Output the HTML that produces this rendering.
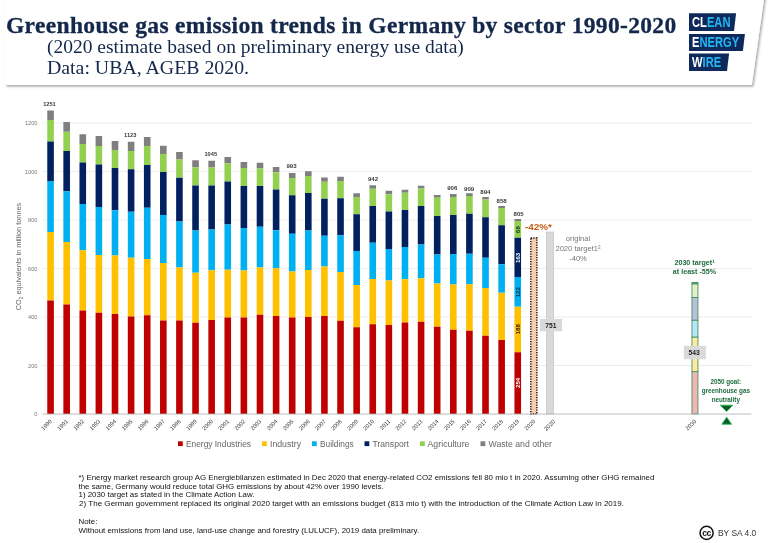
<!DOCTYPE html>
<html><head><meta charset="utf-8"><title>Greenhouse gas emission trends in Germany by sector 1990-2020</title>
<style>
html,body{margin:0;padding:0;background:#fff;}
body{width:768px;height:543px;position:relative;overflow:hidden;will-change:transform;font-family:"Liberation Sans",sans-serif;}
.chart{position:absolute;left:0;top:0;font-family:"Liberation Sans",sans-serif;}
.hdr{position:absolute;left:0;top:0;}
.t{position:absolute;white-space:nowrap;font-family:"Liberation Serif",serif;color:#14284b;transform-origin:0 0;}
#t1{left:5.6px;top:13.6px;-webkit-text-stroke:0.3px #14284b;font-size:22.1px;font-weight:bold;line-height:24px;letter-spacing:0.3px;transform:scaleX(1.065);}
#t2{left:46.8px;top:36.6px;font-size:19.4px;line-height:20px;transform:scaleX(1.005);}
#t3{left:46.8px;top:57.5px;font-size:19.4px;line-height:20px;transform:scaleX(1.022);}
.fn{position:absolute;left:78.5px;white-space:nowrap;font-size:7.9px;line-height:8.8px;color:#111;transform-origin:0 0;}
.logo{position:absolute;left:688.8px;height:17.6px;background:#0f2a5a;clip-path:polygon(0 0,100% 0,calc(100% - 2.1px) 100%,0 100%);}
.logo span{position:absolute;left:3.5px;top:1.5px;font-weight:bold;font-size:14.6px;line-height:15px;color:#24b6f2;transform-origin:0 0;transform:scaleX(0.765);white-space:nowrap;}
.logo b{color:#fff;}
.cc{position:absolute;left:718px;top:527.0px;font-size:9.6px;line-height:12px;color:#333;white-space:nowrap;transform-origin:0 0;transform:scaleX(0.876);}
</style></head><body>
<svg class="hdr" width="768" height="100" viewBox="0 0 768 100">
<defs><filter id="bl" x="-5%" y="-20%" width="110%" height="150%"><feDropShadow dx="1.5" dy="1.5" stdDeviation="0.95" flood-color="#000" flood-opacity="0.36"/></filter></defs>
<polygon points="5,-6 764.7,-6 751.8,85.0 5,85.0" fill="#fff" filter="url(#bl)"/>
</svg>
<div class="t" id="t1">Greenhouse gas emission trends in Germany by sector 1990-2020</div>
<div class="t" id="t2">(2020 estimate based on preliminary energy use data)</div>
<div class="t" id="t3">Data: UBA, AGEB 2020.</div>
<div class="logo" style="top:13.3px;width:47.3px"><span><b>CL</b>EAN</span></div>
<div class="logo" style="top:33.5px;width:56.2px"><span><b>E</b>NERGY</span></div>
<div class="logo" style="top:53.4px;width:40.3px"><span><b>W</b>IRE</span></div>
<svg class="chart" width="768" height="543" viewBox="0 0 768 543">
<rect x="42.5" y="365.15" width="708.8" height="0.7" fill="#e4e4e4"/>
<rect x="42.5" y="316.65" width="708.8" height="0.7" fill="#e4e4e4"/>
<rect x="42.5" y="268.15" width="708.8" height="0.7" fill="#e4e4e4"/>
<rect x="42.5" y="219.65" width="708.8" height="0.7" fill="#e4e4e4"/>
<rect x="42.5" y="171.15" width="708.8" height="0.7" fill="#e4e4e4"/>
<rect x="42.5" y="122.65" width="708.8" height="0.7" fill="#e4e4e4"/>
<rect x="47.26" y="110.50" width="6.6" height="9.50" fill="#7f7f7f"/>
<rect x="47.26" y="120.00" width="6.6" height="21.50" fill="#92d050"/>
<rect x="47.26" y="141.50" width="6.6" height="39.50" fill="#002060"/>
<rect x="47.26" y="181.00" width="6.6" height="51.00" fill="#00b0f0"/>
<rect x="47.26" y="232.00" width="6.6" height="68.50" fill="#ffc000"/>
<rect x="47.26" y="300.50" width="6.6" height="113.50" fill="#c00000"/>
<rect x="63.36" y="122.00" width="6.6" height="9.75" fill="#7f7f7f"/>
<rect x="63.36" y="131.75" width="6.6" height="19.25" fill="#92d050"/>
<rect x="63.36" y="151.00" width="6.6" height="40.25" fill="#002060"/>
<rect x="63.36" y="191.25" width="6.6" height="50.75" fill="#00b0f0"/>
<rect x="63.36" y="242.00" width="6.6" height="62.50" fill="#ffc000"/>
<rect x="63.36" y="304.50" width="6.6" height="109.50" fill="#c00000"/>
<rect x="79.48" y="134.25" width="6.6" height="9.75" fill="#7f7f7f"/>
<rect x="79.48" y="144.00" width="6.6" height="18.50" fill="#92d050"/>
<rect x="79.48" y="162.50" width="6.6" height="41.50" fill="#002060"/>
<rect x="79.48" y="204.00" width="6.6" height="46.25" fill="#00b0f0"/>
<rect x="79.48" y="250.25" width="6.6" height="60.25" fill="#ffc000"/>
<rect x="79.48" y="310.50" width="6.6" height="103.50" fill="#c00000"/>
<rect x="95.58" y="136.00" width="6.6" height="10.00" fill="#7f7f7f"/>
<rect x="95.58" y="146.00" width="6.6" height="18.50" fill="#92d050"/>
<rect x="95.58" y="164.50" width="6.6" height="42.50" fill="#002060"/>
<rect x="95.58" y="207.00" width="6.6" height="48.00" fill="#00b0f0"/>
<rect x="95.58" y="255.00" width="6.6" height="57.75" fill="#ffc000"/>
<rect x="95.58" y="312.75" width="6.6" height="101.25" fill="#c00000"/>
<rect x="111.70" y="141.00" width="6.6" height="9.00" fill="#7f7f7f"/>
<rect x="111.70" y="150.00" width="6.6" height="18.00" fill="#92d050"/>
<rect x="111.70" y="168.00" width="6.6" height="42.25" fill="#002060"/>
<rect x="111.70" y="210.25" width="6.6" height="45.25" fill="#00b0f0"/>
<rect x="111.70" y="255.50" width="6.6" height="58.50" fill="#ffc000"/>
<rect x="111.70" y="314.00" width="6.6" height="100.00" fill="#c00000"/>
<rect x="127.80" y="141.75" width="6.6" height="9.25" fill="#7f7f7f"/>
<rect x="127.80" y="151.00" width="6.6" height="18.25" fill="#92d050"/>
<rect x="127.80" y="169.25" width="6.6" height="42.50" fill="#002060"/>
<rect x="127.80" y="211.75" width="6.6" height="46.00" fill="#00b0f0"/>
<rect x="127.80" y="257.75" width="6.6" height="58.75" fill="#ffc000"/>
<rect x="127.80" y="316.50" width="6.6" height="97.50" fill="#c00000"/>
<rect x="143.91" y="137.00" width="6.6" height="9.00" fill="#7f7f7f"/>
<rect x="143.91" y="146.00" width="6.6" height="19.00" fill="#92d050"/>
<rect x="143.91" y="165.00" width="6.6" height="42.75" fill="#002060"/>
<rect x="143.91" y="207.75" width="6.6" height="51.25" fill="#00b0f0"/>
<rect x="143.91" y="259.00" width="6.6" height="56.25" fill="#ffc000"/>
<rect x="143.91" y="315.25" width="6.6" height="98.75" fill="#c00000"/>
<rect x="160.02" y="145.75" width="6.6" height="8.25" fill="#7f7f7f"/>
<rect x="160.02" y="154.00" width="6.6" height="18.00" fill="#92d050"/>
<rect x="160.02" y="172.00" width="6.6" height="43.00" fill="#002060"/>
<rect x="160.02" y="215.00" width="6.6" height="48.00" fill="#00b0f0"/>
<rect x="160.02" y="263.00" width="6.6" height="57.50" fill="#ffc000"/>
<rect x="160.02" y="320.50" width="6.6" height="93.50" fill="#c00000"/>
<rect x="176.13" y="152.00" width="6.6" height="7.50" fill="#7f7f7f"/>
<rect x="176.13" y="159.50" width="6.6" height="18.25" fill="#92d050"/>
<rect x="176.13" y="177.75" width="6.6" height="43.75" fill="#002060"/>
<rect x="176.13" y="221.50" width="6.6" height="46.00" fill="#00b0f0"/>
<rect x="176.13" y="267.50" width="6.6" height="53.00" fill="#ffc000"/>
<rect x="176.13" y="320.50" width="6.6" height="93.50" fill="#c00000"/>
<rect x="192.24" y="160.25" width="6.6" height="7.00" fill="#7f7f7f"/>
<rect x="192.24" y="167.25" width="6.6" height="18.25" fill="#92d050"/>
<rect x="192.24" y="185.50" width="6.6" height="45.00" fill="#002060"/>
<rect x="192.24" y="230.50" width="6.6" height="42.25" fill="#00b0f0"/>
<rect x="192.24" y="272.75" width="6.6" height="50.00" fill="#ffc000"/>
<rect x="192.24" y="322.75" width="6.6" height="91.25" fill="#c00000"/>
<rect x="208.35" y="160.75" width="6.6" height="6.75" fill="#7f7f7f"/>
<rect x="208.35" y="167.50" width="6.6" height="18.00" fill="#92d050"/>
<rect x="208.35" y="185.50" width="6.6" height="44.00" fill="#002060"/>
<rect x="208.35" y="229.50" width="6.6" height="40.75" fill="#00b0f0"/>
<rect x="208.35" y="270.25" width="6.6" height="49.75" fill="#ffc000"/>
<rect x="208.35" y="320.00" width="6.6" height="94.00" fill="#c00000"/>
<rect x="224.46" y="157.00" width="6.6" height="6.25" fill="#7f7f7f"/>
<rect x="224.46" y="163.25" width="6.6" height="18.25" fill="#92d050"/>
<rect x="224.46" y="181.50" width="6.6" height="43.00" fill="#002060"/>
<rect x="224.46" y="224.50" width="6.6" height="45.25" fill="#00b0f0"/>
<rect x="224.46" y="269.75" width="6.6" height="47.75" fill="#ffc000"/>
<rect x="224.46" y="317.50" width="6.6" height="96.50" fill="#c00000"/>
<rect x="240.57" y="162.00" width="6.6" height="6.00" fill="#7f7f7f"/>
<rect x="240.57" y="168.00" width="6.6" height="18.00" fill="#92d050"/>
<rect x="240.57" y="186.00" width="6.6" height="42.00" fill="#002060"/>
<rect x="240.57" y="228.00" width="6.6" height="42.50" fill="#00b0f0"/>
<rect x="240.57" y="270.50" width="6.6" height="47.00" fill="#ffc000"/>
<rect x="240.57" y="317.50" width="6.6" height="96.50" fill="#c00000"/>
<rect x="256.69" y="162.75" width="6.6" height="5.75" fill="#7f7f7f"/>
<rect x="256.69" y="168.50" width="6.6" height="17.50" fill="#92d050"/>
<rect x="256.69" y="186.00" width="6.6" height="40.75" fill="#002060"/>
<rect x="256.69" y="226.75" width="6.6" height="40.75" fill="#00b0f0"/>
<rect x="256.69" y="267.50" width="6.6" height="47.25" fill="#ffc000"/>
<rect x="256.69" y="314.75" width="6.6" height="99.25" fill="#c00000"/>
<rect x="272.80" y="167.00" width="6.6" height="5.25" fill="#7f7f7f"/>
<rect x="272.80" y="172.25" width="6.6" height="17.25" fill="#92d050"/>
<rect x="272.80" y="189.50" width="6.6" height="40.75" fill="#002060"/>
<rect x="272.80" y="230.25" width="6.6" height="38.00" fill="#00b0f0"/>
<rect x="272.80" y="268.25" width="6.6" height="47.75" fill="#ffc000"/>
<rect x="272.80" y="316.00" width="6.6" height="98.00" fill="#c00000"/>
<rect x="288.90" y="173.00" width="6.6" height="5.00" fill="#7f7f7f"/>
<rect x="288.90" y="178.00" width="6.6" height="17.25" fill="#92d050"/>
<rect x="288.90" y="195.25" width="6.6" height="38.50" fill="#002060"/>
<rect x="288.90" y="233.75" width="6.6" height="37.75" fill="#00b0f0"/>
<rect x="288.90" y="271.50" width="6.6" height="46.00" fill="#ffc000"/>
<rect x="288.90" y="317.50" width="6.6" height="96.50" fill="#c00000"/>
<rect x="305.01" y="171.25" width="6.6" height="4.75" fill="#7f7f7f"/>
<rect x="305.01" y="176.00" width="6.6" height="17.00" fill="#92d050"/>
<rect x="305.01" y="193.00" width="6.6" height="37.50" fill="#002060"/>
<rect x="305.01" y="230.50" width="6.6" height="39.50" fill="#00b0f0"/>
<rect x="305.01" y="270.00" width="6.6" height="47.00" fill="#ffc000"/>
<rect x="305.01" y="317.00" width="6.6" height="97.00" fill="#c00000"/>
<rect x="321.12" y="177.50" width="6.6" height="4.25" fill="#7f7f7f"/>
<rect x="321.12" y="181.75" width="6.6" height="17.00" fill="#92d050"/>
<rect x="321.12" y="198.75" width="6.6" height="37.00" fill="#002060"/>
<rect x="321.12" y="235.75" width="6.6" height="30.75" fill="#00b0f0"/>
<rect x="321.12" y="266.50" width="6.6" height="49.50" fill="#ffc000"/>
<rect x="321.12" y="316.00" width="6.6" height="98.00" fill="#c00000"/>
<rect x="337.23" y="176.75" width="6.6" height="4.25" fill="#7f7f7f"/>
<rect x="337.23" y="181.00" width="6.6" height="17.25" fill="#92d050"/>
<rect x="337.23" y="198.25" width="6.6" height="37.00" fill="#002060"/>
<rect x="337.23" y="235.25" width="6.6" height="36.75" fill="#00b0f0"/>
<rect x="337.23" y="272.00" width="6.6" height="48.75" fill="#ffc000"/>
<rect x="337.23" y="320.75" width="6.6" height="93.25" fill="#c00000"/>
<rect x="353.34" y="193.25" width="6.6" height="3.75" fill="#7f7f7f"/>
<rect x="353.34" y="197.00" width="6.6" height="17.25" fill="#92d050"/>
<rect x="353.34" y="214.25" width="6.6" height="36.75" fill="#002060"/>
<rect x="353.34" y="251.00" width="6.6" height="34.00" fill="#00b0f0"/>
<rect x="353.34" y="285.00" width="6.6" height="42.25" fill="#ffc000"/>
<rect x="353.34" y="327.25" width="6.6" height="86.75" fill="#c00000"/>
<rect x="369.45" y="185.25" width="6.6" height="3.50" fill="#7f7f7f"/>
<rect x="369.45" y="188.75" width="6.6" height="17.25" fill="#92d050"/>
<rect x="369.45" y="206.00" width="6.6" height="36.75" fill="#002060"/>
<rect x="369.45" y="242.75" width="6.6" height="36.25" fill="#00b0f0"/>
<rect x="369.45" y="279.00" width="6.6" height="45.25" fill="#ffc000"/>
<rect x="369.45" y="324.25" width="6.6" height="89.75" fill="#c00000"/>
<rect x="385.56" y="190.75" width="6.6" height="3.50" fill="#7f7f7f"/>
<rect x="385.56" y="194.25" width="6.6" height="17.25" fill="#92d050"/>
<rect x="385.56" y="211.50" width="6.6" height="37.50" fill="#002060"/>
<rect x="385.56" y="249.00" width="6.6" height="31.50" fill="#00b0f0"/>
<rect x="385.56" y="280.50" width="6.6" height="44.50" fill="#ffc000"/>
<rect x="385.56" y="325.00" width="6.6" height="89.00" fill="#c00000"/>
<rect x="401.67" y="189.75" width="6.6" height="3.00" fill="#7f7f7f"/>
<rect x="401.67" y="192.75" width="6.6" height="17.25" fill="#92d050"/>
<rect x="401.67" y="210.00" width="6.6" height="37.00" fill="#002060"/>
<rect x="401.67" y="247.00" width="6.6" height="32.25" fill="#00b0f0"/>
<rect x="401.67" y="279.25" width="6.6" height="43.25" fill="#ffc000"/>
<rect x="401.67" y="322.50" width="6.6" height="91.50" fill="#c00000"/>
<rect x="417.78" y="185.75" width="6.6" height="2.75" fill="#7f7f7f"/>
<rect x="417.78" y="188.50" width="6.6" height="17.50" fill="#92d050"/>
<rect x="417.78" y="206.00" width="6.6" height="38.50" fill="#002060"/>
<rect x="417.78" y="244.50" width="6.6" height="33.75" fill="#00b0f0"/>
<rect x="417.78" y="278.25" width="6.6" height="43.50" fill="#ffc000"/>
<rect x="417.78" y="321.75" width="6.6" height="92.25" fill="#c00000"/>
<rect x="433.89" y="195.00" width="6.6" height="2.75" fill="#7f7f7f"/>
<rect x="433.89" y="197.75" width="6.6" height="18.25" fill="#92d050"/>
<rect x="433.89" y="216.00" width="6.6" height="38.50" fill="#002060"/>
<rect x="433.89" y="254.50" width="6.6" height="29.00" fill="#00b0f0"/>
<rect x="433.89" y="283.50" width="6.6" height="43.25" fill="#ffc000"/>
<rect x="433.89" y="326.75" width="6.6" height="87.25" fill="#c00000"/>
<rect x="450.00" y="194.00" width="6.6" height="3.00" fill="#7f7f7f"/>
<rect x="450.00" y="197.00" width="6.6" height="18.00" fill="#92d050"/>
<rect x="450.00" y="215.00" width="6.6" height="39.00" fill="#002060"/>
<rect x="450.00" y="254.00" width="6.6" height="30.50" fill="#00b0f0"/>
<rect x="450.00" y="284.50" width="6.6" height="45.25" fill="#ffc000"/>
<rect x="450.00" y="329.75" width="6.6" height="84.25" fill="#c00000"/>
<rect x="466.11" y="193.25" width="6.6" height="2.75" fill="#7f7f7f"/>
<rect x="466.11" y="196.00" width="6.6" height="17.75" fill="#92d050"/>
<rect x="466.11" y="213.75" width="6.6" height="40.00" fill="#002060"/>
<rect x="466.11" y="253.75" width="6.6" height="30.50" fill="#00b0f0"/>
<rect x="466.11" y="284.25" width="6.6" height="46.50" fill="#ffc000"/>
<rect x="466.11" y="330.75" width="6.6" height="83.25" fill="#c00000"/>
<rect x="482.22" y="197.00" width="6.6" height="2.50" fill="#7f7f7f"/>
<rect x="482.22" y="199.50" width="6.6" height="17.75" fill="#92d050"/>
<rect x="482.22" y="217.25" width="6.6" height="40.50" fill="#002060"/>
<rect x="482.22" y="257.75" width="6.6" height="30.25" fill="#00b0f0"/>
<rect x="482.22" y="288.00" width="6.6" height="47.75" fill="#ffc000"/>
<rect x="482.22" y="335.75" width="6.6" height="78.25" fill="#c00000"/>
<rect x="498.33" y="206.00" width="6.6" height="2.00" fill="#7f7f7f"/>
<rect x="498.33" y="208.00" width="6.6" height="17.25" fill="#92d050"/>
<rect x="498.33" y="225.25" width="6.6" height="39.00" fill="#002060"/>
<rect x="498.33" y="264.25" width="6.6" height="28.50" fill="#00b0f0"/>
<rect x="498.33" y="292.75" width="6.6" height="47.25" fill="#ffc000"/>
<rect x="498.33" y="340.00" width="6.6" height="74.00" fill="#c00000"/>
<rect x="514.45" y="219.00" width="6.6" height="2.00" fill="#7f7f7f"/>
<rect x="514.45" y="221.00" width="6.6" height="16.75" fill="#92d050"/>
<rect x="514.45" y="237.75" width="6.6" height="39.25" fill="#002060"/>
<rect x="514.45" y="277.00" width="6.6" height="29.75" fill="#00b0f0"/>
<rect x="514.45" y="306.75" width="6.6" height="45.50" fill="#ffc000"/>
<rect x="514.45" y="352.25" width="6.6" height="61.75" fill="#c00000"/>
<rect x="530.81" y="238.0" width="6.1" height="176.00" fill="#f8cbad" stroke="#000" stroke-width="1.35" stroke-dasharray="1.25 1.25"/>
<rect x="546.36" y="232" width="7.2" height="182.00" fill="#d9d9d9" stroke="#c4c4c4" stroke-width="0.7"/>
<rect x="691.95" y="282.4" width="6.0" height="1.60" fill="#6fa37c" stroke="#4d8f63" stroke-width="0.9"/>
<rect x="691.95" y="284.0" width="6.0" height="13.50" fill="#e2f0c8" stroke="#4d8f63" stroke-width="0.9"/>
<rect x="691.95" y="297.5" width="6.0" height="22.80" fill="#b8bfd8" stroke="#4d8f63" stroke-width="0.9"/>
<rect x="691.95" y="320.3" width="6.0" height="16.90" fill="#b4e6f8" stroke="#4d8f63" stroke-width="0.9"/>
<rect x="691.95" y="337.2" width="6.0" height="34.50" fill="#ffe9a0" stroke="#4d8f63" stroke-width="0.9"/>
<rect x="691.95" y="371.7" width="6.0" height="42.30" fill="#f2b4b4" stroke="#4d8f63" stroke-width="0.9"/>
<rect x="42.5" y="413.6" width="708.8" height="0.9" fill="#b5b5b5"/>
<text x="37.5" y="416.00" text-anchor="end" font-size="5.7" fill="#7a7a7a">0</text>
<text x="37.5" y="367.50" text-anchor="end" font-size="5.7" fill="#7a7a7a">200</text>
<text x="37.5" y="319.00" text-anchor="end" font-size="5.7" fill="#7a7a7a">400</text>
<text x="37.5" y="270.50" text-anchor="end" font-size="5.7" fill="#7a7a7a">600</text>
<text x="37.5" y="222.00" text-anchor="end" font-size="5.7" fill="#7a7a7a">800</text>
<text x="37.5" y="173.50" text-anchor="end" font-size="5.7" fill="#7a7a7a">1000</text>
<text x="37.5" y="125.00" text-anchor="end" font-size="5.7" fill="#7a7a7a">1200</text>
<text transform="translate(21.0,256.5) rotate(-90)" text-anchor="middle" font-size="7.35" fill="#666">CO<tspan font-size="4.6" dy="1.5">2</tspan><tspan dy="-1.5"> equivalents in million tonnes</tspan></text>
<text transform="translate(52.35,421.7) rotate(-45)" text-anchor="end" font-size="5.7" fill="#3c3c3c">1990</text>
<text transform="translate(68.46,421.7) rotate(-45)" text-anchor="end" font-size="5.7" fill="#3c3c3c">1991</text>
<text transform="translate(84.58,421.7) rotate(-45)" text-anchor="end" font-size="5.7" fill="#3c3c3c">1992</text>
<text transform="translate(100.68,421.7) rotate(-45)" text-anchor="end" font-size="5.7" fill="#3c3c3c">1993</text>
<text transform="translate(116.80,421.7) rotate(-45)" text-anchor="end" font-size="5.7" fill="#3c3c3c">1994</text>
<text transform="translate(132.91,421.7) rotate(-45)" text-anchor="end" font-size="5.7" fill="#3c3c3c">1995</text>
<text transform="translate(149.02,421.7) rotate(-45)" text-anchor="end" font-size="5.7" fill="#3c3c3c">1996</text>
<text transform="translate(165.12,421.7) rotate(-45)" text-anchor="end" font-size="5.7" fill="#3c3c3c">1997</text>
<text transform="translate(181.24,421.7) rotate(-45)" text-anchor="end" font-size="5.7" fill="#3c3c3c">1998</text>
<text transform="translate(197.34,421.7) rotate(-45)" text-anchor="end" font-size="5.7" fill="#3c3c3c">1999</text>
<text transform="translate(213.46,421.7) rotate(-45)" text-anchor="end" font-size="5.7" fill="#3c3c3c">2000</text>
<text transform="translate(229.56,421.7) rotate(-45)" text-anchor="end" font-size="5.7" fill="#3c3c3c">2001</text>
<text transform="translate(245.68,421.7) rotate(-45)" text-anchor="end" font-size="5.7" fill="#3c3c3c">2002</text>
<text transform="translate(261.79,421.7) rotate(-45)" text-anchor="end" font-size="5.7" fill="#3c3c3c">2003</text>
<text transform="translate(277.90,421.7) rotate(-45)" text-anchor="end" font-size="5.7" fill="#3c3c3c">2004</text>
<text transform="translate(294.00,421.7) rotate(-45)" text-anchor="end" font-size="5.7" fill="#3c3c3c">2005</text>
<text transform="translate(310.12,421.7) rotate(-45)" text-anchor="end" font-size="5.7" fill="#3c3c3c">2006</text>
<text transform="translate(326.23,421.7) rotate(-45)" text-anchor="end" font-size="5.7" fill="#3c3c3c">2007</text>
<text transform="translate(342.33,421.7) rotate(-45)" text-anchor="end" font-size="5.7" fill="#3c3c3c">2008</text>
<text transform="translate(358.44,421.7) rotate(-45)" text-anchor="end" font-size="5.7" fill="#3c3c3c">2009</text>
<text transform="translate(374.56,421.7) rotate(-45)" text-anchor="end" font-size="5.7" fill="#3c3c3c">2010</text>
<text transform="translate(390.67,421.7) rotate(-45)" text-anchor="end" font-size="5.7" fill="#3c3c3c">2011</text>
<text transform="translate(406.77,421.7) rotate(-45)" text-anchor="end" font-size="5.7" fill="#3c3c3c">2012</text>
<text transform="translate(422.88,421.7) rotate(-45)" text-anchor="end" font-size="5.7" fill="#3c3c3c">2013</text>
<text transform="translate(439.00,421.7) rotate(-45)" text-anchor="end" font-size="5.7" fill="#3c3c3c">2014</text>
<text transform="translate(455.11,421.7) rotate(-45)" text-anchor="end" font-size="5.7" fill="#3c3c3c">2015</text>
<text transform="translate(471.21,421.7) rotate(-45)" text-anchor="end" font-size="5.7" fill="#3c3c3c">2016</text>
<text transform="translate(487.32,421.7) rotate(-45)" text-anchor="end" font-size="5.7" fill="#3c3c3c">2017</text>
<text transform="translate(503.44,421.7) rotate(-45)" text-anchor="end" font-size="5.7" fill="#3c3c3c">2018</text>
<text transform="translate(519.54,421.7) rotate(-45)" text-anchor="end" font-size="5.7" fill="#3c3c3c">2019</text>
<text transform="translate(535.65,421.7) rotate(-45)" text-anchor="end" font-size="5.7" fill="#3c3c3c">2020</text>
<text transform="translate(555.56,422.0) rotate(-45)" text-anchor="end" font-size="5.9" fill="#3c3c3c">2020</text>
<text transform="translate(696.75,421.7) rotate(-45)" text-anchor="end" font-size="5.7" fill="#3c3c3c">2030</text>
<text x="49.45" y="106.23" text-anchor="middle" font-size="5.65" font-weight="bold" fill="#3a3a3a">1251</text>
<text x="130.20" y="136.53" text-anchor="middle" font-size="5.65" font-weight="bold" fill="#3a3a3a">1123</text>
<text x="210.75" y="156.33" text-anchor="middle" font-size="5.65" font-weight="bold" fill="#3a3a3a">1045</text>
<text x="291.50" y="168.10" text-anchor="middle" font-size="6.1" font-weight="bold" fill="#3a3a3a">993</text>
<text x="373.06" y="181.20" text-anchor="middle" font-size="6.1" font-weight="bold" fill="#3a3a3a">942</text>
<text x="452.30" y="190.20" text-anchor="middle" font-size="6.1" font-weight="bold" fill="#3a3a3a">906</text>
<text x="469.10" y="191.20" text-anchor="middle" font-size="6.1" font-weight="bold" fill="#3a3a3a">909</text>
<text x="485.40" y="193.95" text-anchor="middle" font-size="6.1" font-weight="bold" fill="#3a3a3a">894</text>
<text x="501.60" y="203.45" text-anchor="middle" font-size="6.1" font-weight="bold" fill="#3a3a3a">858</text>
<text x="518.60" y="215.70" text-anchor="middle" font-size="6.1" font-weight="bold" fill="#3a3a3a">805</text>
<text transform="translate(519.95,229.6) rotate(-90)" text-anchor="middle" font-size="6.1" font-weight="bold" fill="#1a3a1a">68</text>
<text transform="translate(519.95,257.9) rotate(-90)" text-anchor="middle" font-size="6.1" font-weight="bold" fill="#fff">163</text>
<text transform="translate(519.95,292.2) rotate(-90)" text-anchor="middle" font-size="6.1" font-weight="bold" fill="#0a2a50">122</text>
<text transform="translate(519.95,329.3) rotate(-90)" text-anchor="middle" font-size="6.1" font-weight="bold" fill="#3a2a00">188</text>
<text transform="translate(519.95,382.9) rotate(-90)" text-anchor="middle" font-size="6.1" font-weight="bold" fill="#fff">254</text>
<text x="538.4" y="229.5" text-anchor="middle" font-size="9.8" font-weight="bold" fill="#c55a11">-42%*</text>
<text x="578" y="240.9" text-anchor="middle" font-size="7.6" fill="#777">original</text>
<text x="578" y="250.7" text-anchor="middle" font-size="7.6" fill="#777">2020 target1²</text>
<text x="578" y="260.9" text-anchor="middle" font-size="7.6" fill="#777">-40%</text>
<rect x="539.8" y="319" width="22.2" height="12.3" fill="#d9d9d9"/>
<text x="550.8" y="328.0" text-anchor="middle" font-size="6.7" font-weight="bold" fill="#222">751</text>
<rect x="683.8" y="345.8" width="22" height="13.4" fill="#d9d9d9"/>
<text x="694.2" y="354.9" text-anchor="middle" font-size="6.7" font-weight="bold" fill="#222">543</text>
<text x="694.5" y="264.7" text-anchor="middle" font-size="7.15" font-weight="bold" fill="#1d6b3c">2030 target¹</text>
<text x="694.5" y="274.2" text-anchor="middle" font-size="7.15" font-weight="bold" fill="#1d6b3c">at least -55%</text>
<text x="725.8" y="383.9" text-anchor="middle" font-size="6.3" font-weight="bold" fill="#1d6b3c">2050 goal:</text>
<text x="725.8" y="392.9" text-anchor="middle" font-size="6.3" font-weight="bold" fill="#1d6b3c">greenhouse gas</text>
<text x="725.8" y="401.8" text-anchor="middle" font-size="6.3" font-weight="bold" fill="#1d6b3c">neutrality</text>
<polygon points="720.3,405.2 732.9,405.2 726.6,411.6" fill="#0b5a2c" stroke="#22c04a" stroke-width="0.9"/>
<polygon points="721.8,424.2 731.6,424.2 726.7,417.2" fill="#0b5a2c" stroke="#22c04a" stroke-width="0.9"/>
<rect x="178" y="441.3" width="4.8" height="4.8" fill="#c00000"/>
<text x="186" y="446.6" font-size="8.4" textLength="65" lengthAdjust="spacingAndGlyphs" fill="#666">Energy Industries</text>
<rect x="262" y="441.3" width="4.8" height="4.8" fill="#ffc000"/>
<text x="270" y="446.6" font-size="8.4" textLength="31" lengthAdjust="spacingAndGlyphs" fill="#666">Industry</text>
<rect x="312" y="441.3" width="4.8" height="4.8" fill="#00b0f0"/>
<text x="320" y="446.6" font-size="8.4" textLength="33.75" lengthAdjust="spacingAndGlyphs" fill="#666">Buildings</text>
<rect x="364.5" y="441.3" width="4.8" height="4.8" fill="#002060"/>
<text x="372.5" y="446.6" font-size="8.4" textLength="36.5" lengthAdjust="spacingAndGlyphs" fill="#666">Transport</text>
<rect x="420" y="441.3" width="4.8" height="4.8" fill="#92d050"/>
<text x="427.5" y="446.6" font-size="8.4" textLength="42" lengthAdjust="spacingAndGlyphs" fill="#666">Agriculture</text>
<rect x="480.5" y="441.3" width="4.8" height="4.8" fill="#7f7f7f"/>
<text x="488.5" y="446.6" font-size="8.4" textLength="63.5" lengthAdjust="spacingAndGlyphs" fill="#666">Waste and other</text>
</svg>
<div class="fn" id="f1" style="top:473.7px">*) Energy market research group AG Energiebilanzen estimated in Dec 2020 that energy-related CO2 emissions fell 80 mio t in 2020. Assuming other GHG remained</div>
<div class="fn" id="f2" style="top:482.7px">the same, Germany would reduce total GHG emissions by about 42% over 1990 levels.</div>
<div class="fn" id="f3" style="top:491.3px">1) 2030 target as stated in the Climate Action Law.</div>
<div class="fn" id="f4" style="top:500.0px;transform:scaleX(1.0205)">2) The German government replaced its original 2020 target with an emissions budget (813 mio t) with the introduction of the Climate Action Law in 2019.</div>
<div class="fn" id="f5" style="top:517.9px">Note:</div>
<div class="fn" id="f6" style="top:526.7px">Without emissions from land use, land-use change and forestry (LULUCF), 2019 data preliminary.</div>
<svg style="position:absolute;left:698px;top:524px" width="18" height="18" viewBox="0 0 18 18">
<circle cx="8.6" cy="8.9" r="6.55" fill="#fff" stroke="#111" stroke-width="1.5"/>
<text x="8.4" y="11.5" text-anchor="middle" font-family="Liberation Sans" font-weight="bold" font-size="8.6" letter-spacing="-0.55" fill="#111">cc</text>
</svg>
<div class="cc">BY SA 4.0</div>
</body></html>
